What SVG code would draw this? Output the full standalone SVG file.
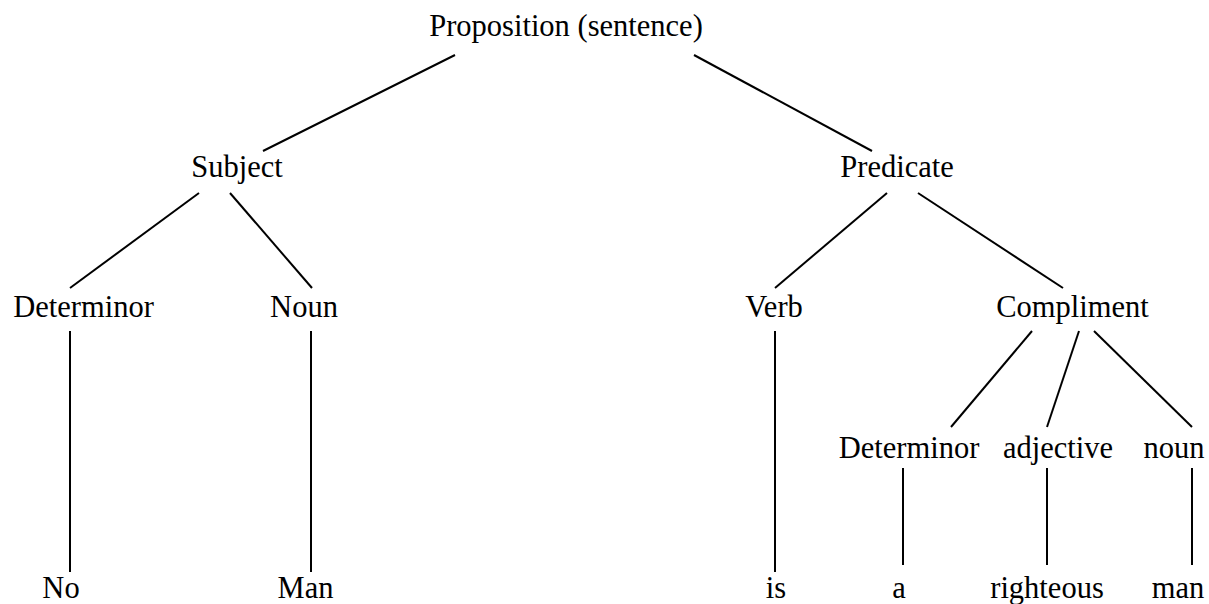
<svg xmlns="http://www.w3.org/2000/svg" width="1209" height="604" viewBox="0 0 1209 604">
<style>
text{font-family:"Liberation Serif","Times New Roman",serif;font-size:30.5px;fill:#000;text-anchor:middle}
line{stroke:#000;stroke-width:2}
</style>
<rect width="1209" height="604" fill="#fff"/>
<g id="connectors">
<line x1="455" y1="55" x2="263" y2="151"/>
<line x1="694" y1="55" x2="872" y2="151"/>
<line x1="199" y1="193" x2="70" y2="288"/>
<line x1="230" y1="193" x2="312" y2="288"/>
<line x1="887" y1="193" x2="775" y2="288"/>
<line x1="918" y1="193" x2="1063" y2="288"/>
<line x1="70" y1="331" x2="70" y2="572"/>
<line x1="311" y1="331" x2="311" y2="572"/>
<line x1="775" y1="331" x2="775" y2="572"/>
<line x1="1032" y1="331" x2="951" y2="427"/>
<line x1="1079" y1="331" x2="1047" y2="427"/>
<line x1="1094" y1="331" x2="1192" y2="427"/>
<line x1="903" y1="468" x2="903" y2="565"/>
<line x1="1047" y1="468" x2="1047" y2="565"/>
<line x1="1192" y1="468" x2="1192" y2="565"/>
</g>
<g id="proposition"><text x="566" y="36">Proposition (sentence)</text></g>
<g id="subject"><text x="237" y="177">Subject</text></g>
<g id="predicate"><text x="897" y="177">Predicate</text></g>
<g id="determinor1"><text x="83.5" y="317">Determinor</text></g>
<g id="noun1"><text x="304" y="317">Noun</text></g>
<g id="verb"><text x="774" y="317">Verb</text></g>
<g id="compliment"><text x="1072.5" y="317">Compliment</text></g>
<g id="determinor2"><text x="909" y="458">Determinor</text></g>
<g id="adjective"><text x="1058" y="458">adjective</text></g>
<g id="noun2"><text x="1174" y="458">noun</text></g>
<g id="no"><text x="61" y="598">No</text></g>
<g id="man1"><text x="305.5" y="598">Man</text></g>
<g id="is"><text x="776" y="598">is</text></g>
<g id="a"><text x="899" y="598">a</text></g>
<g id="righteous"><text x="1047" y="598">righteous</text></g>
<g id="man2"><text x="1178" y="598">man</text></g>
</svg>
